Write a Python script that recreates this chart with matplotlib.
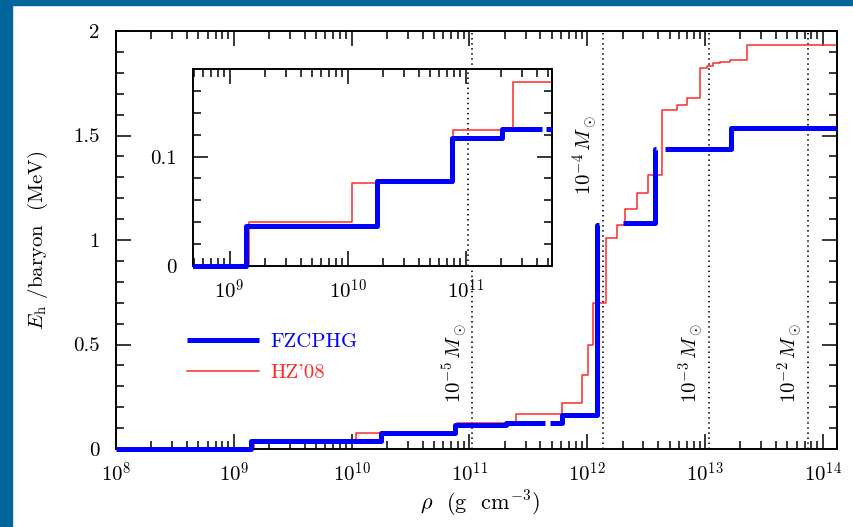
import numpy as np
import matplotlib
matplotlib.use('Agg')
import matplotlib.pyplot as plt
from matplotlib.patches import Rectangle
from matplotlib.ticker import FixedLocator, LogLocator, NullFormatter
from matplotlib.transforms import Bbox, TransformedBbox

plt.rcParams.update({
    'font.family': 'serif',
    'font.serif': ['cmr10', 'DejaVu Serif'],
    'mathtext.fontset': 'cm',
    'axes.formatter.use_mathtext': True,
    'axes.unicode_minus': False,
})

nan = np.nan
# FZCPHG heating per baryon (steps-post, nan = gap in the curve)
blue_rho = [1e8, 1.39e9, 1.76e10, 7.6e10, 2.05e11, 4.4e11, 4.8e11, 6.1e11,
            1.21e12, 1.26e12, 2.0e12, 3.77e12, 3.85e12, 4.6e12, 1.66e13, 1.32e14]
blue_E = [0, 0.037, 0.078, 0.117, 0.125, nan, 0.125, 0.165,
          1.07, nan, 1.08, 1.435, nan, 1.435, 1.537, 1.537]

# HZ'08
red_rho = [1e8, 1.47e9, 1.08e10, 7.9e10, 2.5e11, 6.1e11, 9.0e11, 1.02e12, 1.12e12,
           1.44e12, 1.79e12, 2.09e12, 2.65e12, 3.28e12, 4.31e12, 5.78e12, 7.03e12,
           9.07e12, 1.04e13, 1.17e13, 1.34e13, 1.63e13, 2.27e13, 1.32e14]
red_E = [0, 0.04, 0.076, 0.124, 0.168, 0.22, 0.354, 0.5, 0.7,
         1.01, 1.07, 1.15, 1.225, 1.31, 1.62, 1.646, 1.678,
         1.821, 1.833, 1.845, 1.853, 1.859, 1.933, 1.935]

# density where the enclosed mass reaches 1e-5 ... 1e-2 Msun
mass_rho = [1.05e11, 1.36e12, 1.08e13, 7.48e13]
mass_lab = [r'$10^{-5}\,M_\odot$', r'$10^{-4}\,M_\odot$',
            r'$10^{-3}\,M_\odot$', r'$10^{-2}\,M_\odot$']
mass_lab_y = [0.22, 1.215, 0.22, 0.22]

xticks_main = [1e8, 1e9, 1e10, 1e11, 1e12, 1e13, 1e14]
xticks_ins = [1e9, 1e10, 1e11]

blue = '#0000ff'
red = '#ff2a2a'
fs = 15

fig = plt.figure(figsize=(8.54, 5.27), dpi=100)
fig.patch.set_facecolor('white')
# slide frame
fig.patches.append(Rectangle((0, 1 - 5/527), 1, 5/527, transform=fig.transFigure,
                             color='#00669b', zorder=0))
fig.patches.append(Rectangle((0, 0), 12/854, 1, transform=fig.transFigure,
                             color='#00669b', zorder=0))

ax = fig.add_axes([116/854, 78/527, 721/854, 418/527])
ins = fig.add_axes([193/854, 261/527, 359/854, 197/527])


def style(a):
    a.set_xscale('log')
    a.tick_params(which='both', direction='in', top=True, right=True,
                  width=1.1, labelsize=fs)
    a.tick_params(which='major', length=11)
    a.tick_params(which='minor', length=5.5)
    a.tick_params(axis='y', pad=12)
    a.tick_params(axis='x', pad=9)
    for s in a.spines.values():
        s.set_linewidth(1.4)
    a.xaxis.set_minor_locator(LogLocator(base=10, subs=np.arange(2, 10), numticks=20))
    a.xaxis.set_minor_formatter(NullFormatter())


for a in (ax, ins):
    style(a)
    lb, = a.step(blue_rho, blue_E, where='post', color=blue, lw=3.6,
                 zorder=3, label='FZCPHG', solid_capstyle='butt')
    lr, = a.step(red_rho, red_E, where='post', color=red, lw=1.1,
                 zorder=2, label="HZ'08")
    for ln in (lb, lr):
        ln.set_clip_box(TransformedBbox(Bbox([[0, -0.03], [1, 1.03]]), a.transAxes))

# main axes
ax.set_xlim(1e8, 1.32e14)
ax.set_ylim(0, 2)
ax.set_xticks(xticks_main)
ax.set_xticklabels([r'$10^{%d}$' % np.log10(v) for v in xticks_main])
ax.set_yticks([0, 0.5, 1, 1.5, 2])
ax.set_yticklabels(['0', '0.5', '1', '1.5', '2'])
ax.yaxis.set_minor_locator(FixedLocator(np.arange(0, 2.01, 0.1)))

for r, lab, yl in zip(mass_rho, mass_lab, mass_lab_y):
    ax.axvline(r, color='#111111', lw=1.3, ls=(0, (0.8, 2.0)), zorder=1)
    ax.annotate(lab, xy=(r, yl), xytext=(-12.5, 0), textcoords='offset points',
                rotation=90, ha='center', va='bottom', fontsize=fs)

ax.set_xlabel(r'$\rho$  (g  cm$^{-3}$)', fontsize=16)
ax.xaxis.set_label_coords(0.505, -0.095)
ax.xaxis.label.set_va('top')
ax.set_ylabel(r'$E_{\rm h}$ /baryon  (MeV)', fontsize=fs)
ax.yaxis.set_label_coords(-0.092, 0.5)

ax.legend(loc='upper left', bbox_to_anchor=(0.0985, 0.278), frameon=False,
          borderpad=0, borderaxespad=0, handlelength=3.45, handletextpad=0.55,
          labelspacing=0.6, fontsize=fs, labelcolor='linecolor')

# inset
ins.set_xlim(4.9e8, 5.4e11)
ins.set_ylim(0, 0.18)
ins.set_xticks(xticks_ins)
ins.set_xticklabels([r'$10^{%d}$' % np.log10(v) for v in xticks_ins])
ins.set_yticks([0, 0.1])
ins.set_yticklabels(['0', '0.1'])
ins.yaxis.set_minor_locator(FixedLocator(np.arange(0, 0.181, 0.02)))
ins.axvline(mass_rho[0], color='#111111', lw=1.3, ls=(0, (0.8, 2.0)), zorder=1)

fig.savefig('out.png', dpi=100, facecolor='white')
